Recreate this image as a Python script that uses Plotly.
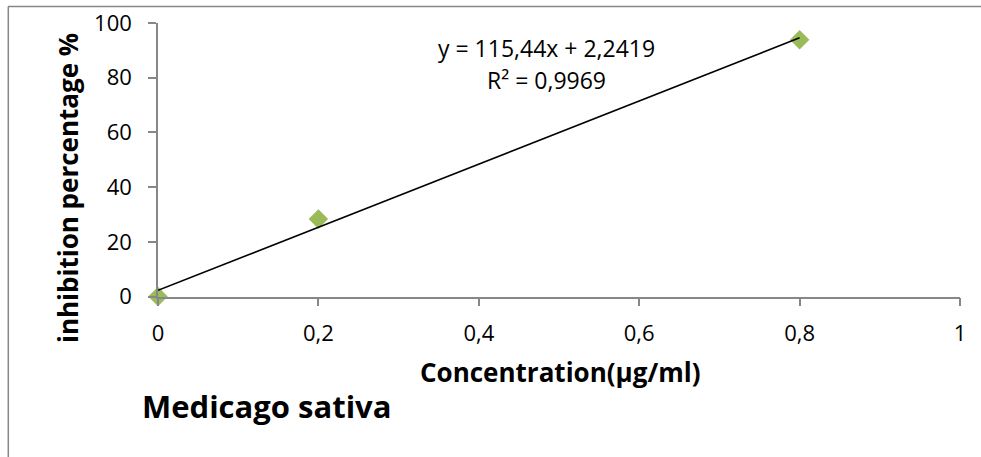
import plotly.graph_objects as go

# ---- data ----
concentration = [0, 0.2, 0.8]
inhibition = [0, 28.32, 93.85]
trend_slope = 115.44
trend_intercept = 2.2419
trend_x = [0, 0.8]
x_tick_vals = [0, 0.2, 0.4, 0.6, 0.8, 1]
x_tick_text = ["0", "0,2", "0,4", "0,6", "0,8", "1"]
y_tick_vals = [0, 20, 40, 60, 80, 100]
y_tick_text = ["0", "20", "40", "60", "80", "100"]
equation_text = "y = 115,44x + 2,2419"
r2_text = "R² = 0,9969"
x_title = "Concentration(µg/ml)"
y_title = "inhibition percentage %"
caption = "Medicago sativa"

W, H = 981, 457
def px(x):
    return x / W
def py(y):
    return 1 - y / H

trend_y = [trend_slope * x + trend_intercept for x in trend_x]

FONT = "Open Sans"
AXIS_COLOR = "#878787"

fig = go.Figure()
fig.add_trace(go.Scatter(
    x=concentration, y=inhibition, mode="markers",
    marker=dict(symbol="diamond", size=15, color="#9BBB59"),
    cliponaxis=False, showlegend=False, hoverinfo="x+y"))
fig.add_trace(go.Scatter(
    x=trend_x, y=trend_y, mode="lines",
    line=dict(color="black", width=1.6),
    cliponaxis=False, showlegend=False))

fig.update_layout(
    width=W, height=H,
    margin=dict(l=0, r=0, t=0, b=0),
    paper_bgcolor="white", plot_bgcolor="white",
    font=dict(family=FONT, size=22, color="black"),
    xaxis=dict(
        domain=[px(158), px(960)], range=[0, 1],
        tickvals=x_tick_vals, ticktext=x_tick_text,
        showgrid=False, zeroline=False,
        showline=True, linecolor=AXIS_COLOR, linewidth=1.5,
        ticks="outside", ticklen=8, tickwidth=1.5, tickcolor=AXIS_COLOR,
        ticklabelstandoff=8, automargin=False,
        tickfont=dict(family=FONT, size=22, color="black"),
    ),
    yaxis=dict(
        domain=[py(296.5), py(23)], range=[0, 100],
        tickvals=y_tick_vals, ticktext=y_tick_text,
        showgrid=False, zeroline=False,
        showline=True, linecolor=AXIS_COLOR, linewidth=1.5,
        ticks="outside", ticklen=8, tickwidth=1.5, tickcolor=AXIS_COLOR,
        ticklabelstandoff=12, automargin=False,
        tickfont=dict(family=FONT, size=22, color="black"),
    ),
    shapes=[
        dict(type="line", xref="paper", yref="paper",
             x0=px(8), x1=1.0, y0=py(6.5), y1=py(6.5),
             line=dict(color=AXIS_COLOR, width=1.5)),
        dict(type="line", xref="paper", yref="paper",
             x0=px(8.3), x1=px(8.3), y0=py(6.5), y1=0,
             line=dict(color=AXIS_COLOR, width=1.5)),
    ],
    annotations=[
        dict(text=equation_text, xref="paper", yref="paper",
             x=px(546), y=py(48), xanchor="center", yanchor="middle",
             showarrow=False, font=dict(family=FONT, size=23)),
        dict(text=r2_text, xref="paper", yref="paper",
             x=px(546), y=py(80), xanchor="center", yanchor="middle",
             showarrow=False, font=dict(family=FONT, size=23)),
        dict(text="<b>" + x_title + "</b>", xref="paper", yref="paper",
             x=px(560), y=py(372), xanchor="center", yanchor="middle",
             showarrow=False, font=dict(family=FONT, size=26)),
        dict(text="<b>" + y_title + "</b>", xref="paper", yref="paper",
             x=px(68), y=py(188), xanchor="center", yanchor="middle",
             textangle=-90, showarrow=False, font=dict(family=FONT, size=26)),
        dict(text="<b>" + caption + "</b>", xref="paper", yref="paper",
             x=px(140), y=py(406), xanchor="left", yanchor="middle",
             showarrow=False, font=dict(family=FONT, size=31)),
    ],
)

fig.write_html("out.html")
